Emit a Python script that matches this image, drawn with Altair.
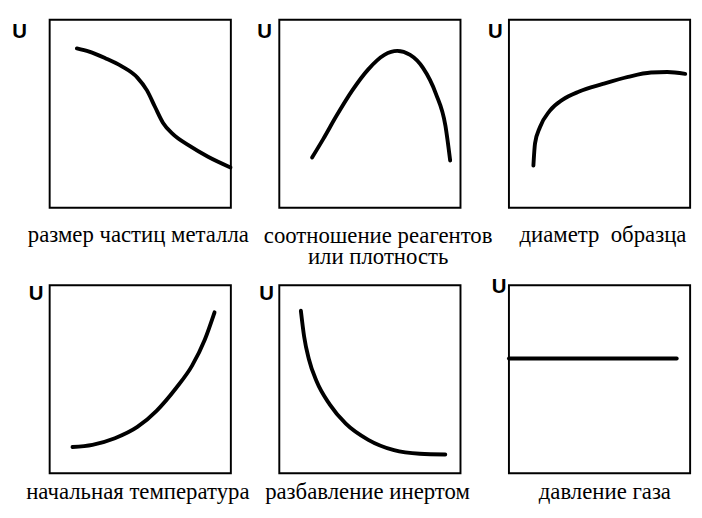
import altair as alt
import pandas as pd

# ---- data (normalised 0..1 inside each panel) ----
p1_x = [0.15, 0.218, 0.307, 0.396, 0.484, 0.537, 0.581, 0.626, 0.679, 0.768, 0.874, 0.998]
p1_y = [0.847, 0.830, 0.795, 0.753, 0.692, 0.624, 0.537, 0.451, 0.392, 0.331, 0.271, 0.214]

p2_x = [0.181, 0.243, 0.314, 0.403, 0.491, 0.580, 0.651, 0.722, 0.793, 0.864, 0.917, 0.943]
p2_y = [0.267, 0.366, 0.486, 0.624, 0.736, 0.813, 0.834, 0.813, 0.744, 0.607, 0.435, 0.251]

p3_x = [0.135, 0.144, 0.171, 0.225, 0.297, 0.388, 0.514, 0.658, 0.784, 0.874, 0.973]
p3_y = [0.224, 0.342, 0.428, 0.515, 0.575, 0.618, 0.657, 0.696, 0.719, 0.722, 0.712]

p4_x = [0.126, 0.236, 0.360, 0.484, 0.590, 0.697, 0.786, 0.856, 0.910]
p4_y = [0.139, 0.151, 0.186, 0.246, 0.332, 0.452, 0.572, 0.710, 0.856]

p5_x = [0.119, 0.137, 0.163, 0.207, 0.278, 0.367, 0.491, 0.633, 0.775, 0.916]
p5_y = [0.864, 0.727, 0.607, 0.486, 0.366, 0.263, 0.177, 0.122, 0.103, 0.099]

p6_x = [0.0, 0.926]
p6_y = [0.61, 0.61]

captions = [
    "размер частиц металла",
    ["соотношение реагентов", "или плотность"],
    "диаметр\u00a0 образца",
    "начальная температура",
    "разбавление инертом",
    "давление газа",
]
y_label = "U"

SERIF = "Liberation Serif"
SANS = "Liberation Sans"
W, H = 187, 194


def panel(xs, ys, caption, u_gap, u_dy, cap_dx, cap_y):
    df = pd.DataFrame({"x": xs, "y": ys})
    return (
        alt.Chart(df)
        .mark_line(color="black", strokeWidth=4, interpolate="monotone", strokeCap="round")
        .encode(
            x=alt.X(
                "x:Q",
                scale=alt.Scale(domain=[0, 1], nice=False, zero=False),
                axis=alt.Axis(
                    title=caption,
                    labels=False, ticks=False, domain=False, grid=False,
                    titleFont=SERIF, titleFontSize=23.5,
                    titleFontWeight="normal", titleColor="black",
                    titleX=W / 2 + cap_dx, titleY=cap_y,
                    titleBaseline="alphabetic", titleAlign="center",
                    titleLineHeight=22,
                ),
            ),
            y=alt.Y(
                "y:Q",
                scale=alt.Scale(domain=[0, 1], nice=False, zero=False),
                axis=alt.Axis(
                    title=y_label,
                    labels=False, ticks=False, domain=False, grid=False,
                    titleFont=SANS, titleFontSize=21,
                    titleFontWeight="bold", titleColor="black",
                    titleAngle=0, titleAlign="right", titleBaseline="top",
                    titleX=-u_gap, titleY=u_dy,
                ),
            ),
        )
        .properties(width=W, height=H)
    )


charts = [
    panel(p1_x, p1_y, captions[0], 24, 1.5, -2.5, 35),
    panel(p2_x, p2_y, captions[1], 8, 1.5, 8, 36),
    panel(p3_x, p3_y, captions[2], 7, 1.5, 3, 35),
    panel(p4_x, p4_y, captions[3], 7, -2.5, -3, 26),
    panel(p5_x, p5_y, captions[4], 6, -2.5, -3, 26),
    panel(p6_x, p6_y, captions[5], 3, -9.5, 5, 26),
]

chart = (
    alt.concat(*charts, columns=3, spacing={"row": 80, "column": 50})
    .resolve_scale(x="independent", y="independent")
    .properties(
        bounds="flush",
        padding={"left": 2, "top": 3, "right": 0, "bottom": 0},
        background="white",
    )
    .configure_view(stroke="black", strokeWidth=2)
    .configure_axis(titleColor="black")
)

chart.save("out.html", embed_options={"renderer": "svg", "actions": False})
